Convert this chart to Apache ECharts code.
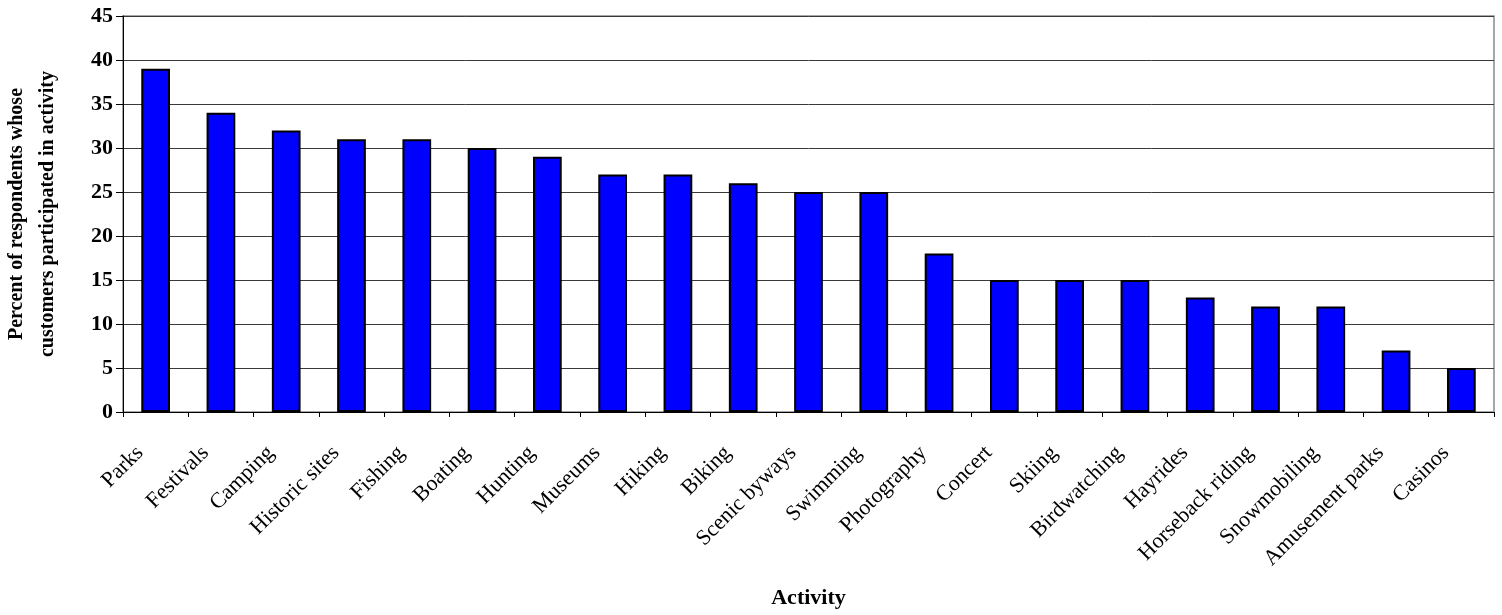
<!DOCTYPE html>
<html>
<head>
<meta charset="utf-8">
<script src="https://cdn.jsdelivr.net/npm/echarts@6/dist/echarts.min.js"></script>
<style>
  html, body { margin: 0; padding: 0; background: #fff; }
  #chart { width: 1502px; height: 615px; }
</style>
</head>
<body>
<div id="chart"></div>
<script>
// activities, in the order shown on the x axis
const activities = [
  'Parks', 'Festivals', 'Camping', 'Historic sites', 'Fishing', 'Boating', 'Hunting',
  'Museums', 'Hiking', 'Biking', 'Scenic byways', 'Swimming', 'Photography', 'Concert',
  'Skiing', 'Birdwatching', 'Hayrides', 'Horseback riding', 'Snowmobiling',
  'Amusement parks', 'Casinos'
]
// percent of respondents whose customers participated
const percents = [39, 34, 32, 31, 31, 30, 29, 27, 27, 26, 25, 25, 18, 15, 15, 15, 13, 12, 12, 7, 5]
// y axis scale
const yMin = 0
const yMax = 45
const yStep = 5

const serif = "'Liberation Serif', 'Times New Roman', serif"

const myChart = echarts.init(document.getElementById('chart'))

const option = {
  animation: false,
  textStyle: { fontFamily: serif, color: '#000' },
  grid: {
    left: 123,
    right: 8,
    top: 16,
    bottom: 203,
    outerBoundsMode: 'none',
    containLabel: false,
    show: true,
    borderColor: '#8a8a8a',
    borderWidth: 1.5
  },
  xAxis: {
    type: 'category',
    data: activities,
    name: 'Activity',
    nameLocation: 'middle',
    nameGap: 175,
    nameTextStyle: { fontFamily: serif, fontSize: 22, fontWeight: 'bold', color: '#000' },
    axisLine: { lineStyle: { color: '#000', width: 1 } },
    axisTick: { show: true, length: 5, lineStyle: { color: '#000' } },
    axisLabel: {
      interval: 0,
      rotate: 45,
      margin: 22,
      padding: [0, 22, 0, 0],
      fontFamily: serif,
      fontSize: 22,
      color: '#000'
    }
  },
  yAxis: {
    type: 'value',
    min: yMin,
    max: yMax,
    interval: yStep,
    name: 'Percent of respondents whose\ncustomers participated in activity',
    nameLocation: 'middle',
    nameGap: 60,
    nameTextStyle: {
      fontFamily: serif,
      fontSize: 20,
      fontWeight: 'bold',
      color: '#000',
      lineHeight: 31,
      align: 'center'
    },
    axisLine: { show: true, lineStyle: { color: '#000', width: 1 } },
    axisTick: { show: true, length: 7, lineStyle: { color: '#000' } },
    axisLabel: {
      margin: 10,
      fontFamily: serif,
      fontSize: 22,
      fontWeight: 'bold',
      color: '#000'
    },
    splitLine: { lineStyle: { color: '#3a3a3a', width: 1 } }
  },
  series: [
    {
      name: 'Percent',
      type: 'bar',
      data: percents,
      barWidth: '44%',
      itemStyle: {
        color: '#0000ff',
        borderColor: '#000',
        borderWidth: 2
      }
    }
  ]
}

myChart.setOption(option)
</script>
</body>
</html>
